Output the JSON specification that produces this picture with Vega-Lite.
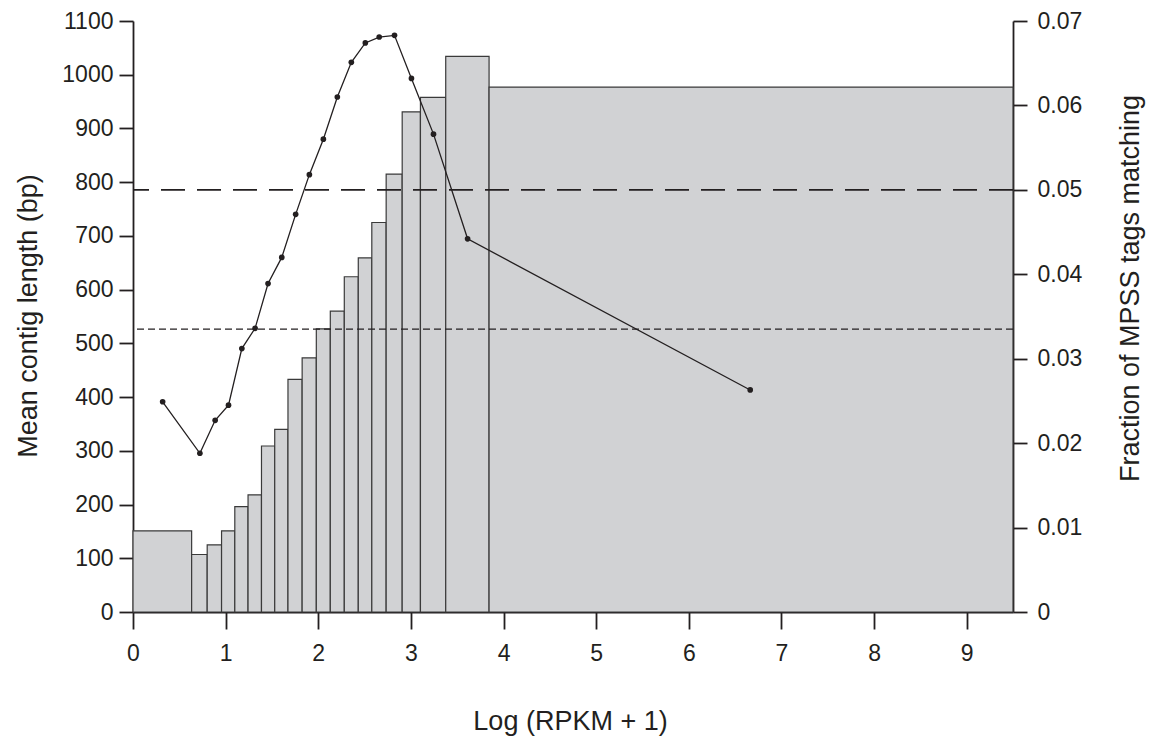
{
  "$schema": "https://vega.github.io/schema/vega-lite/v6.json",
  "width": 880,
  "height": 591,
  "autosize": {"type": "none"},
  "padding": {"left": 133, "top": 21, "right": 141, "bottom": 125},
  "background": "white",
  "config": {
    "view": {"stroke": null},
    "font": "Liberation Sans",
    "axis": {
      "grid": false,
      "domainColor": "#231f20",
      "domainWidth": 1.8,
      "tickColor": "#231f20",
      "tickWidth": 1.8,
      "tickSize": 14,
      "labelColor": "#231f20",
      "labelFont": "Liberation Sans",
      "labelFontSize": 23,
      "labelFlush": false,
      "labelOverlap": false,
      "titleColor": "#231f20",
      "titleFont": "Liberation Sans",
      "titleFontSize": 27,
      "titleFontWeight": "normal",
      "titleAlign": "center",
      "titleBaseline": "alphabetic"
    }
  },
  "datasets": {
    "bins": [
      {"lo": 0.0, "hi": 0.633, "mid": 0.32, "length": 151, "frac": 0.0249},
      {"lo": 0.633, "hi": 0.801, "mid": 0.722, "length": 107, "frac": 0.0188},
      {"lo": 0.801, "hi": 0.956, "mid": 0.887, "length": 125, "frac": 0.0227},
      {"lo": 0.956, "hi": 1.099, "mid": 1.031, "length": 151, "frac": 0.0245},
      {"lo": 1.099, "hi": 1.242, "mid": 1.175, "length": 196, "frac": 0.0312},
      {"lo": 1.242, "hi": 1.387, "mid": 1.318, "length": 218, "frac": 0.0336},
      {"lo": 1.387, "hi": 1.53, "mid": 1.458, "length": 309, "frac": 0.0389},
      {"lo": 1.53, "hi": 1.673, "mid": 1.606, "length": 340, "frac": 0.042},
      {"lo": 1.673, "hi": 1.826, "mid": 1.756, "length": 433, "frac": 0.0471},
      {"lo": 1.826, "hi": 1.979, "mid": 1.904, "length": 473, "frac": 0.0518},
      {"lo": 1.979, "hi": 2.13, "mid": 2.055, "length": 527, "frac": 0.056},
      {"lo": 2.13, "hi": 2.281, "mid": 2.206, "length": 560, "frac": 0.061},
      {"lo": 2.281, "hi": 2.432, "mid": 2.357, "length": 624, "frac": 0.0651},
      {"lo": 2.432, "hi": 2.578, "mid": 2.508, "length": 659, "frac": 0.0674},
      {"lo": 2.578, "hi": 2.733, "mid": 2.658, "length": 725, "frac": 0.0681},
      {"lo": 2.733, "hi": 2.906, "mid": 2.823, "length": 815, "frac": 0.0683},
      {"lo": 2.906, "hi": 3.103, "mid": 3.006, "length": 931, "frac": 0.0632},
      {"lo": 3.103, "hi": 3.376, "mid": 3.244, "length": 958, "frac": 0.0566},
      {"lo": 3.376, "hi": 3.844, "mid": 3.612, "length": 1034, "frac": 0.0442},
      {"lo": 3.844, "hi": 9.5, "mid": 6.663, "length": 977, "frac": 0.0263}
    ],
    "thresholds": [
      {"kind": "long", "frac": 0.05},
      {"kind": "short", "frac": 0.0335}
    ]
  },
  "layer": [
    {
      "data": {"name": "bins"},
      "mark": {"type": "bar", "fill": "#d1d2d4", "stroke": "#3a3a3a", "strokeWidth": 1.2},
      "encoding": {
        "x": {
          "field": "lo",
          "type": "quantitative",
          "title": "Log (RPKM + 1)",
          "scale": {"domain": [0, 9.5], "nice": false, "zero": false},
          "axis": {
            "values": [0, 1, 2, 3, 4, 5, 6, 7, 8, 9],
            "format": "d",
            "tickSize": 17,
            "labelBaseline": "alphabetic",
            "labelPadding": 31,
            "titleAngle": 0,
            "titleX": 437,
            "titleY": 117
          }
        },
        "x2": {"field": "hi"},
        "y": {
          "field": "length",
          "type": "quantitative",
          "title": "Mean contig length (bp)",
          "scale": {"domain": [0, 1100], "nice": false},
          "axis": {
            "orient": "left",
            "values": [0, 100, 200, 300, 400, 500, 600, 700, 800, 900, 1000, 1100],
            "format": "d",
            "labelPadding": 6,
            "titleAngle": -90,
            "titleX": -97,
            "titleY": 294.5
          }
        },
        "y2": {"datum": 0}
      }
    },
    {
      "encoding": {
        "y": {
          "field": "frac",
          "type": "quantitative",
          "title": "Fraction of MPSS tags matching",
          "scale": {"domain": [0, 0.07], "nice": false},
          "axis": {
            "orient": "right",
            "values": [0, 0.01, 0.02, 0.03, 0.04, 0.05, 0.06, 0.07],
            "format": ".2~f",
            "labelPadding": 10,
            "titleAngle": -90,
            "titleX": 125,
            "titleY": 267
          }
        }
      },
      "layer": [
        {
          "data": {"name": "thresholds"},
          "transform": [{"filter": "datum.kind === 'long'"}],
          "mark": {"type": "rule", "stroke": "#231f20", "strokeWidth": 1.8, "strokeDash": [24, 12]}
        },
        {
          "data": {"name": "thresholds"},
          "transform": [{"filter": "datum.kind === 'short'"}],
          "mark": {"type": "rule", "stroke": "#231f20", "strokeWidth": 1.3, "strokeDash": [7, 4]}
        },
        {
          "data": {"name": "bins"},
          "mark": {"type": "line", "stroke": "#231f20", "strokeWidth": 1.3},
          "encoding": {"x": {"field": "mid", "type": "quantitative", "title": "Log (RPKM + 1)"}}
        },
        {
          "data": {"name": "bins"},
          "mark": {"type": "point", "filled": true, "fill": "#231f20", "opacity": 1, "size": 32},
          "encoding": {"x": {"field": "mid", "type": "quantitative", "title": "Log (RPKM + 1)"}}
        }
      ]
    }
  ],
  "resolve": {"scale": {"y": "independent"}}
}
